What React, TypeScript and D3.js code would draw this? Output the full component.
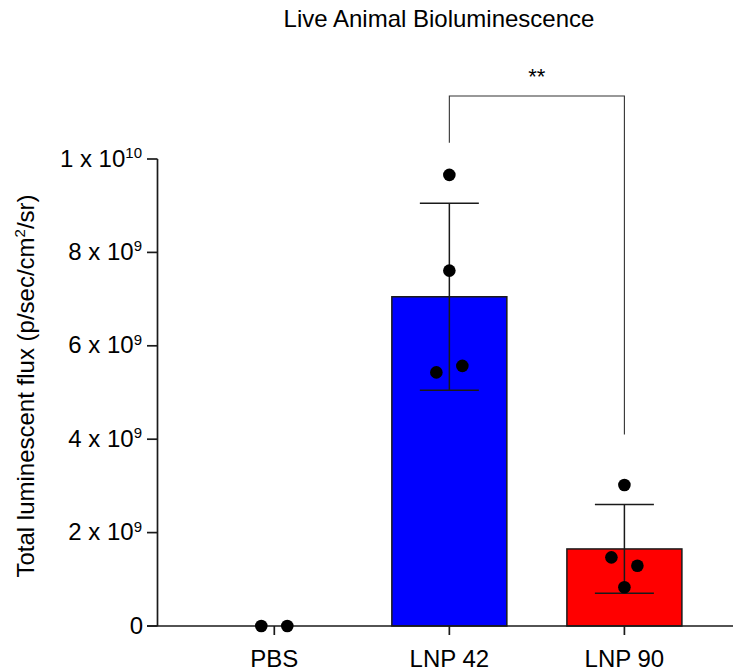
import * as React from "react";
import * as d3 from "d3";

// groups and values
const categories = ["PBS", "LNP 42", "LNP 90"];
const barMeans = [0, 7.05e9, 1.65e9];
const barSD = [0, 2.0e9, 0.95e9];
const pbsPoints = [0, 0];
const lnp42Points = [9.66e9, 7.61e9, 5.43e9, 5.57e9];
const lnp90Points = [3.02e9, 1.47e9, 1.29e9, 0.83e9];
const barColors = ["#ffffff", "#0000ff", "#ff0000"];
const yTicks = [0, 2e9, 4e9, 6e9, 8e9, 1e10];
const bracketGroups = ["LNP 42", "LNP 90"];
const bracketLevels = [10.35e9, 4.1e9];
const bracketTop = 11.35e9;
const bracketLabel = "**";

const points = [pbsPoints, lnp42Points, lnp90Points];

const width = 733;
const height = 672;
const font = "'Liberation Sans', Arial, Helvetica, sans-serif";
const ink = "#1a1a1a";

// spread points that overlap vertically side by side
const spread = (vals: number[], y: d3.ScaleLinear<number, number>, r: number, step: number) => {
  const out: number[] = new Array(vals.length).fill(0);
  const used = new Array(vals.length).fill(false);
  vals.forEach((v, i) => {
    if (used[i]) return;
    const cluster = [i];
    used[i] = true;
    vals.forEach((w, j) => {
      if (!used[j] && Math.abs(y(v) - y(w)) < 2 * r + 1) {
        cluster.push(j);
        used[j] = true;
      }
    });
    cluster.forEach((idx, k) => {
      out[idx] = (k - (cluster.length - 1) / 2) * step;
    });
  });
  return out;
};

const TickLabel = ({ value, y }: { value: number; y: number }) => {
  if (value === 0) {
    return (
      <text x={143} y={y + 7.5} textAnchor="end" fontSize={24}>
        0
      </text>
    );
  }
  const exp = Math.floor(Math.log10(value));
  const mant = Math.round(value / Math.pow(10, exp));
  return (
    <text x={142} y={y + 7.5} textAnchor="end" fontSize={24}>
      {`${mant} x 10`}
      <tspan fontSize={15} dy={-8.6}>
        {exp}
      </tspan>
    </text>
  );
};

const App = () => {
  const x = d3.scalePoint<string>().domain(categories).range([274.3, 624.4]);
  const y = d3.scaleLinear().domain([0, 1e10]).range([626, 159]);
  const barW = 115;
  const capW = 29.5;
  const r = 6.3;
  const y0 = y(0);

  const bx1 = x(bracketGroups[0])!;
  const bx2 = x(bracketGroups[1])!;

  return (
    <svg
      width={width}
      height={height}
      style={{ position: "absolute", left: 0, top: 0, background: "#fff" }}
      fontFamily={font}
      fill="#000"
    >
      <text x={439} y={27} textAnchor="middle" fontSize={24}>
        Live Animal Bioluminescence
      </text>

      {/* bars */}
      {categories.map((c, i) => (
        <rect
          key={c}
          x={x(c)! - barW / 2}
          y={y(barMeans[i])}
          width={barW}
          height={y0 - y(barMeans[i])}
          fill={barColors[i]}
          stroke={ink}
          strokeWidth={1.5}
        />
      ))}

      {/* error bars */}
      {categories.map((c, i) => {
        if (barSD[i] === 0) return null;
        const cx = x(c)!;
        const hi = y(barMeans[i] + barSD[i]);
        const lo = y(barMeans[i] - barSD[i]);
        return (
          <g key={c} stroke={ink} strokeWidth={1.5}>
            <line x1={cx} x2={cx} y1={hi} y2={lo} />
            <line x1={cx - capW} x2={cx + capW} y1={hi} y2={hi} />
            <line x1={cx - capW} x2={cx + capW} y1={lo} y2={lo} />
          </g>
        );
      })}

      {/* axes */}
      <g stroke={ink} strokeWidth={1.7} fill="none">
        <line x1={157.5} x2={157.5} y1={y(1e10)} y2={y0} />
        <line x1={147} x2={width} y1={y0} y2={y0} />
        {yTicks.map((t) => (
          <line key={t} x1={147} x2={157.5} y1={y(t)} y2={y(t)} />
        ))}
        {categories.map((c) => (
          <line key={c} x1={x(c)} x2={x(c)} y1={y0} y2={y0 + 9} />
        ))}
      </g>

      {/* points */}
      {categories.map((c, i) => {
        const offs = spread(points[i], y, r, 26);
        return points[i].map((v, j) => (
          <circle key={`${c}-${j}`} cx={x(c)! + offs[j]} cy={y(v)} r={r} fill="#000" />
        ));
      })}

      {yTicks.map((t) => (
        <TickLabel key={t} value={t} y={y(t)} />
      ))}

      {categories.map((c) => (
        <text key={c} x={x(c)} y={y0 + 41} textAnchor="middle" fontSize={24}>
          {c}
        </text>
      ))}

      <text
        transform={`translate(33.5, 386) rotate(-90)`}
        textAnchor="middle"
        fontSize={24}
      >
        Total luminescent flux (p/sec/cm
        <tspan fontSize={15} dy={-9}>
          2
        </tspan>
        <tspan dy={9}>/sr)</tspan>
      </text>

      {/* significance bracket */}
      <path
        d={`M${bx1},${y(bracketLevels[0])}V${y(bracketTop)}H${bx2}V${y(bracketLevels[1])}`}
        fill="none"
        stroke="#333"
        strokeWidth={1.1}
      />
      <text x={(bx1 + bx2) / 2} y={84} textAnchor="middle" fontSize={22}>
        {bracketLabel}
      </text>
    </svg>
  );
};

export default App;
